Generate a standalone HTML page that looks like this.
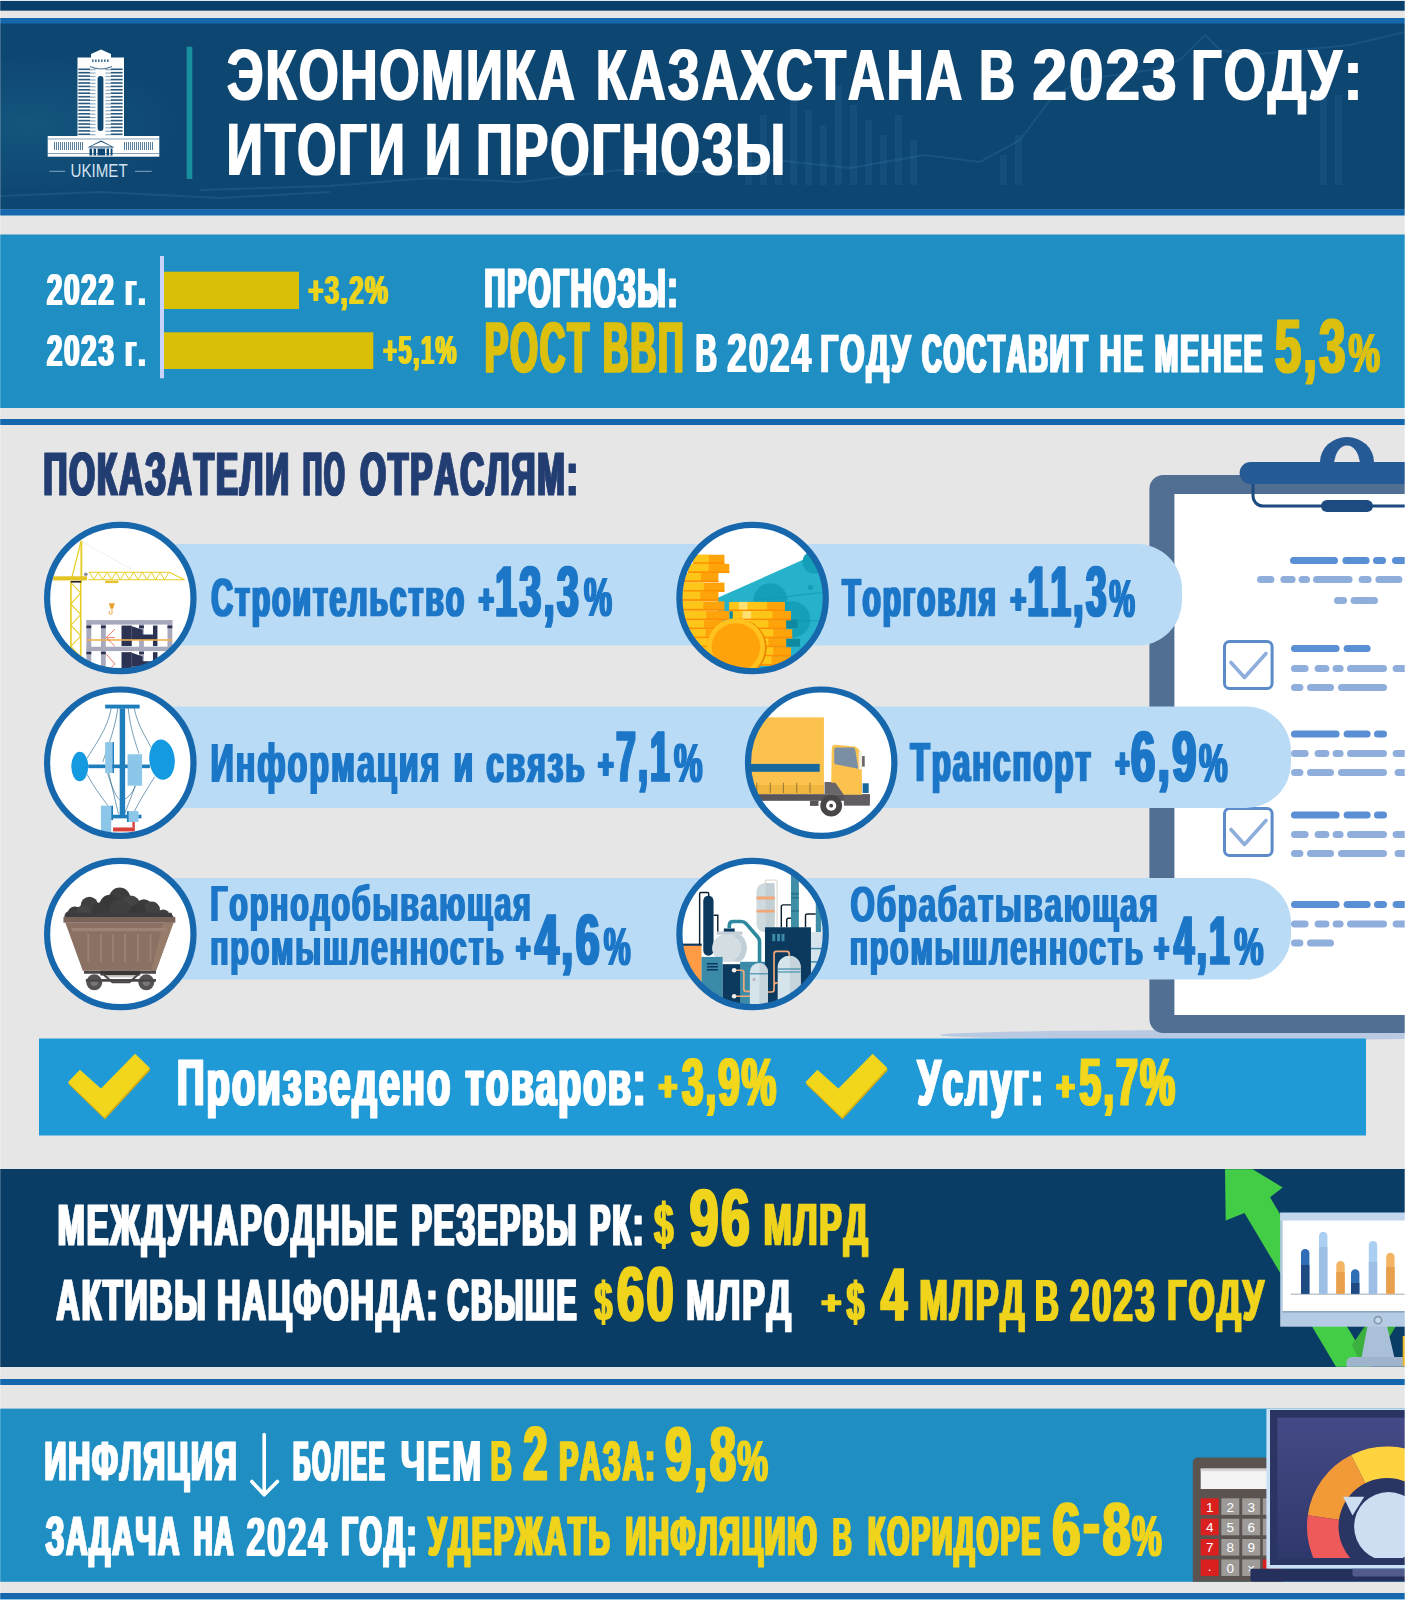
<!DOCTYPE html>
<html lang="ru"><head><meta charset="utf-8"><title>Экономика Казахстана в 2023 году: итоги и прогнозы</title>
<style>html,body{margin:0;padding:0;background:#e7e6e6}svg{display:block}text{font-family:"Liberation Sans",sans-serif;font-kerning:none;white-space:pre}</style></head>
<body>
<svg width="1405" height="1600" viewBox="0 0 1405 1600">
<defs><filter id="fat" x="-2%" y="-10%" width="104%" height="120%"><feMorphology operator="dilate" radius="1 0"/></filter><filter id="fat2" x="-5%" y="-10%" width="110%" height="120%"><feMorphology operator="dilate" radius="2 0"/></filter><radialGradient id="glow"><stop offset="0" stop-color="#1a6a8a" stop-opacity=".45"/><stop offset="1" stop-color="#1a6a8a" stop-opacity="0"/></radialGradient><linearGradient id="scr" x1="0" y1="0" x2="0" y2="1"><stop offset="0" stop-color="#444a86"/><stop offset="1" stop-color="#2f386b"/></linearGradient></defs>
<rect x="0" y="0" width="1405" height="1600" fill="#e7e6e6"/>
<rect x="0" y="0" width="1405" height="10.7" fill="#0b3f6b"/>
<rect x="0" y="0" width="1405" height="1" fill="#dfe9f2"/>
<rect x="0" y="18" width="1405" height="6" fill="#1568ae"/>
<rect x="0" y="23.5" width="1405" height="186" fill="#0e4672"/>
<ellipse cx="30" cy="125" rx="150" ry="70" fill="url(#glow)"/>
<g opacity="0.15" fill="none" stroke="#5aa0d8" stroke-width="2"><polyline points="200,190 330,186 430,178 520,182 620,170 700,172 775,160 850,168 925,155 980,162 1020,140 1050,100 1080,80 1150,70 1180,60 1205,35 1220,50 1250,55 1300,50 1350,45 1405,32"/><polyline points="0,196 100,192 220,198 330,192"/></g>
<g opacity="0.09" fill="#5aa0d8"><rect x="745" y="145" width="7" height="40"/><rect x="760" y="115" width="7" height="70"/><rect x="775" y="130" width="7" height="55"/><rect x="790" y="95" width="7" height="90"/><rect x="805" y="110" width="7" height="75"/><rect x="820" y="125" width="7" height="60"/><rect x="835" y="85" width="7" height="100"/><rect x="850" y="105" width="7" height="80"/><rect x="865" y="120" width="7" height="65"/><rect x="880" y="135" width="7" height="50"/><rect x="895" y="115" width="7" height="70"/><rect x="910" y="140" width="7" height="45"/><rect x="1000" y="155" width="7" height="30"/><rect x="1015" y="135" width="7" height="50"/><rect x="1320" y="65" width="7" height="120"/><rect x="1335" y="95" width="7" height="90"/></g>
<rect x="0" y="209.2" width="1405" height="6.3" fill="#1568ae"/>
<rect x="0" y="234.5" width="1405" height="173.5" fill="#1e8ec3"/>
<rect x="0" y="419" width="1405" height="6" fill="#1568ae"/>
<rect x="0" y="1169" width="1405" height="198" fill="#0a3d65"/>
<rect x="0" y="1379" width="1405" height="6" fill="#1568ae"/>
<rect x="0" y="1408.6" width="1405" height="173.2" fill="#1e8ec3"/>
<rect x="0" y="1593" width="1405" height="6" fill="#1568ae"/>
<rect x="0" y="1599" width="1405" height="1" fill="#8cc4ee"/>
<rect x="186.7" y="46.7" width="5.6" height="132.3" fill="#178f9e"/>
<path d="M77.5 136V57.5h13.5V54l10-4.5 10 4.5v3.5h13V136z" fill="#fff"/><rect x="78.3" y="68.5" width="11.8" height="1.6" fill="#0e4672" opacity=".9"/><rect x="110.8" y="68.5" width="11.8" height="1.6" fill="#0e4672" opacity=".9"/><rect x="90.1" y="69.1" width="5.4" height="1.2" fill="#0e4672" opacity=".45"/><rect x="105.4" y="69.1" width="5.4" height="1.2" fill="#0e4672" opacity=".45"/><rect x="78.3" y="71.9" width="11.8" height="1.6" fill="#0e4672" opacity=".9"/><rect x="110.8" y="71.9" width="11.8" height="1.6" fill="#0e4672" opacity=".9"/><rect x="90.1" y="72.5" width="5.4" height="1.2" fill="#0e4672" opacity=".45"/><rect x="105.4" y="72.5" width="5.4" height="1.2" fill="#0e4672" opacity=".45"/><rect x="78.3" y="75.3" width="11.8" height="1.6" fill="#0e4672" opacity=".9"/><rect x="110.8" y="75.3" width="11.8" height="1.6" fill="#0e4672" opacity=".9"/><rect x="90.1" y="75.9" width="5.4" height="1.2" fill="#0e4672" opacity=".45"/><rect x="105.4" y="75.9" width="5.4" height="1.2" fill="#0e4672" opacity=".45"/><rect x="78.3" y="78.8" width="11.8" height="1.6" fill="#0e4672" opacity=".9"/><rect x="110.8" y="78.8" width="11.8" height="1.6" fill="#0e4672" opacity=".9"/><rect x="90.1" y="79.4" width="5.4" height="1.2" fill="#0e4672" opacity=".45"/><rect x="105.4" y="79.4" width="5.4" height="1.2" fill="#0e4672" opacity=".45"/><rect x="78.3" y="82.2" width="11.8" height="1.6" fill="#0e4672" opacity=".9"/><rect x="110.8" y="82.2" width="11.8" height="1.6" fill="#0e4672" opacity=".9"/><rect x="90.1" y="82.8" width="5.4" height="1.2" fill="#0e4672" opacity=".45"/><rect x="105.4" y="82.8" width="5.4" height="1.2" fill="#0e4672" opacity=".45"/><rect x="78.3" y="85.6" width="11.8" height="1.6" fill="#0e4672" opacity=".9"/><rect x="110.8" y="85.6" width="11.8" height="1.6" fill="#0e4672" opacity=".9"/><rect x="90.1" y="86.2" width="5.4" height="1.2" fill="#0e4672" opacity=".45"/><rect x="105.4" y="86.2" width="5.4" height="1.2" fill="#0e4672" opacity=".45"/><rect x="78.3" y="89.0" width="11.8" height="1.6" fill="#0e4672" opacity=".9"/><rect x="110.8" y="89.0" width="11.8" height="1.6" fill="#0e4672" opacity=".9"/><rect x="90.1" y="89.6" width="5.4" height="1.2" fill="#0e4672" opacity=".45"/><rect x="105.4" y="89.6" width="5.4" height="1.2" fill="#0e4672" opacity=".45"/><rect x="78.3" y="92.4" width="11.8" height="1.6" fill="#0e4672" opacity=".9"/><rect x="110.8" y="92.4" width="11.8" height="1.6" fill="#0e4672" opacity=".9"/><rect x="90.1" y="93.0" width="5.4" height="1.2" fill="#0e4672" opacity=".45"/><rect x="105.4" y="93.0" width="5.4" height="1.2" fill="#0e4672" opacity=".45"/><rect x="78.3" y="95.9" width="11.8" height="1.6" fill="#0e4672" opacity=".9"/><rect x="110.8" y="95.9" width="11.8" height="1.6" fill="#0e4672" opacity=".9"/><rect x="90.1" y="96.5" width="5.4" height="1.2" fill="#0e4672" opacity=".45"/><rect x="105.4" y="96.5" width="5.4" height="1.2" fill="#0e4672" opacity=".45"/><rect x="78.3" y="99.3" width="11.8" height="1.6" fill="#0e4672" opacity=".9"/><rect x="110.8" y="99.3" width="11.8" height="1.6" fill="#0e4672" opacity=".9"/><rect x="90.1" y="99.9" width="5.4" height="1.2" fill="#0e4672" opacity=".45"/><rect x="105.4" y="99.9" width="5.4" height="1.2" fill="#0e4672" opacity=".45"/><rect x="78.3" y="102.7" width="11.8" height="1.6" fill="#0e4672" opacity=".9"/><rect x="110.8" y="102.7" width="11.8" height="1.6" fill="#0e4672" opacity=".9"/><rect x="90.1" y="103.3" width="5.4" height="1.2" fill="#0e4672" opacity=".45"/><rect x="105.4" y="103.3" width="5.4" height="1.2" fill="#0e4672" opacity=".45"/><rect x="78.3" y="106.1" width="11.8" height="1.6" fill="#0e4672" opacity=".9"/><rect x="110.8" y="106.1" width="11.8" height="1.6" fill="#0e4672" opacity=".9"/><rect x="90.1" y="106.7" width="5.4" height="1.2" fill="#0e4672" opacity=".45"/><rect x="105.4" y="106.7" width="5.4" height="1.2" fill="#0e4672" opacity=".45"/><rect x="78.3" y="109.5" width="11.8" height="1.6" fill="#0e4672" opacity=".9"/><rect x="110.8" y="109.5" width="11.8" height="1.6" fill="#0e4672" opacity=".9"/><rect x="90.1" y="110.1" width="5.4" height="1.2" fill="#0e4672" opacity=".45"/><rect x="105.4" y="110.1" width="5.4" height="1.2" fill="#0e4672" opacity=".45"/><rect x="78.3" y="113.0" width="11.8" height="1.6" fill="#0e4672" opacity=".9"/><rect x="110.8" y="113.0" width="11.8" height="1.6" fill="#0e4672" opacity=".9"/><rect x="90.1" y="113.6" width="5.4" height="1.2" fill="#0e4672" opacity=".45"/><rect x="105.4" y="113.6" width="5.4" height="1.2" fill="#0e4672" opacity=".45"/><rect x="78.3" y="116.4" width="11.8" height="1.6" fill="#0e4672" opacity=".9"/><rect x="110.8" y="116.4" width="11.8" height="1.6" fill="#0e4672" opacity=".9"/><rect x="90.1" y="117.0" width="5.4" height="1.2" fill="#0e4672" opacity=".45"/><rect x="105.4" y="117.0" width="5.4" height="1.2" fill="#0e4672" opacity=".45"/><rect x="78.3" y="119.8" width="11.8" height="1.6" fill="#0e4672" opacity=".9"/><rect x="110.8" y="119.8" width="11.8" height="1.6" fill="#0e4672" opacity=".9"/><rect x="90.1" y="120.4" width="5.4" height="1.2" fill="#0e4672" opacity=".45"/><rect x="105.4" y="120.4" width="5.4" height="1.2" fill="#0e4672" opacity=".45"/><rect x="78.3" y="123.2" width="11.8" height="1.6" fill="#0e4672" opacity=".9"/><rect x="110.8" y="123.2" width="11.8" height="1.6" fill="#0e4672" opacity=".9"/><rect x="90.1" y="123.8" width="5.4" height="1.2" fill="#0e4672" opacity=".45"/><rect x="105.4" y="123.8" width="5.4" height="1.2" fill="#0e4672" opacity=".45"/><rect x="78.3" y="126.6" width="11.8" height="1.6" fill="#0e4672" opacity=".9"/><rect x="110.8" y="126.6" width="11.8" height="1.6" fill="#0e4672" opacity=".9"/><rect x="90.1" y="127.2" width="5.4" height="1.2" fill="#0e4672" opacity=".45"/><rect x="105.4" y="127.2" width="5.4" height="1.2" fill="#0e4672" opacity=".45"/><rect x="78.3" y="130.1" width="11.8" height="1.6" fill="#0e4672" opacity=".9"/><rect x="110.8" y="130.1" width="11.8" height="1.6" fill="#0e4672" opacity=".9"/><rect x="90.1" y="130.7" width="5.4" height="1.2" fill="#0e4672" opacity=".45"/><rect x="105.4" y="130.7" width="5.4" height="1.2" fill="#0e4672" opacity=".45"/><rect x="78.3" y="133.5" width="11.8" height="1.6" fill="#0e4672" opacity=".9"/><rect x="110.8" y="133.5" width="11.8" height="1.6" fill="#0e4672" opacity=".9"/><rect x="90.1" y="134.1" width="5.4" height="1.2" fill="#0e4672" opacity=".45"/><rect x="105.4" y="134.1" width="5.4" height="1.2" fill="#0e4672" opacity=".45"/><rect x="92" y="59.5" width="1.6" height="2.4" fill="#0e4672" opacity=".8"/><rect x="95" y="59.5" width="1.6" height="2.4" fill="#0e4672" opacity=".8"/><rect x="98" y="59.5" width="1.6" height="2.4" fill="#0e4672" opacity=".8"/><rect x="101" y="59.5" width="1.6" height="2.4" fill="#0e4672" opacity=".8"/><rect x="104" y="59.5" width="1.6" height="2.4" fill="#0e4672" opacity=".8"/><rect x="107" y="59.5" width="1.6" height="2.4" fill="#0e4672" opacity=".8"/><rect x="97.6" y="76" width="5.8" height="55" rx="2.9" fill="#0e4672"/><path d="M90 66.5q11 5 22 0" fill="none" stroke="#0e4672" stroke-width="1.2" opacity=".7"/><rect x="47.7" y="136" width="111.6" height="20.7" fill="#fff"/><rect x="47.7" y="138.5" width="111.6" height="1" fill="#0e4672" opacity=".5"/><rect x="54" y="142" width="1" height="8" fill="#0e4672" opacity=".7"/><rect x="56" y="142" width="1" height="8" fill="#0e4672" opacity=".7"/><rect x="58" y="142" width="1" height="8" fill="#0e4672" opacity=".7"/><rect x="60" y="142" width="1" height="8" fill="#0e4672" opacity=".7"/><rect x="62" y="142" width="1" height="8" fill="#0e4672" opacity=".7"/><rect x="64" y="142" width="1" height="8" fill="#0e4672" opacity=".7"/><rect x="66" y="142" width="1" height="8" fill="#0e4672" opacity=".7"/><rect x="68" y="142" width="1" height="8" fill="#0e4672" opacity=".7"/><rect x="70" y="142" width="1" height="8" fill="#0e4672" opacity=".7"/><rect x="72" y="142" width="1" height="8" fill="#0e4672" opacity=".7"/><rect x="74" y="142" width="1" height="8" fill="#0e4672" opacity=".7"/><rect x="76" y="142" width="1" height="8" fill="#0e4672" opacity=".7"/><rect x="78" y="142" width="1" height="8" fill="#0e4672" opacity=".7"/><rect x="80" y="142" width="1" height="8" fill="#0e4672" opacity=".7"/><rect x="82" y="142" width="1" height="8" fill="#0e4672" opacity=".7"/><rect x="124" y="142" width="1" height="8" fill="#0e4672" opacity=".7"/><rect x="126" y="142" width="1" height="8" fill="#0e4672" opacity=".7"/><rect x="128" y="142" width="1" height="8" fill="#0e4672" opacity=".7"/><rect x="130" y="142" width="1" height="8" fill="#0e4672" opacity=".7"/><rect x="132" y="142" width="1" height="8" fill="#0e4672" opacity=".7"/><rect x="134" y="142" width="1" height="8" fill="#0e4672" opacity=".7"/><rect x="136" y="142" width="1" height="8" fill="#0e4672" opacity=".7"/><rect x="138" y="142" width="1" height="8" fill="#0e4672" opacity=".7"/><rect x="140" y="142" width="1" height="8" fill="#0e4672" opacity=".7"/><rect x="142" y="142" width="1" height="8" fill="#0e4672" opacity=".7"/><rect x="144" y="142" width="1" height="8" fill="#0e4672" opacity=".7"/><rect x="146" y="142" width="1" height="8" fill="#0e4672" opacity=".7"/><rect x="148" y="142" width="1" height="8" fill="#0e4672" opacity=".7"/><rect x="150" y="142" width="1" height="8" fill="#0e4672" opacity=".7"/><rect x="152" y="142" width="1" height="8" fill="#0e4672" opacity=".7"/><path d="M87.5 147.5L101 140.5l13.5 7z" fill="#0e4672"/><path d="M90.5 146.5L101 141.7l10.5 4.8z" fill="#fff"/><rect x="89.5" y="148.5" width="23" height="7" fill="#0e4672"/><rect x="92" y="148.5" width="1.6" height="7" fill="#fff"/><rect x="96" y="148.5" width="1.6" height="7" fill="#fff"/><rect x="105" y="148.5" width="1.6" height="7" fill="#fff"/><rect x="109" y="148.5" width="1.6" height="7" fill="#fff"/><rect x="47.7" y="153" width="111.6" height="1" fill="#0e4672" opacity=".5"/>
<rect x="49.3" y="170.8" width="15.7" height="1" fill="#7fa6c4"/><rect x="135" y="170.8" width="16.7" height="1" fill="#7fa6c4"/>
<text transform="translate(70.53 177.30) scale(0.8456 1)" font-size="17.88" font-weight="normal" fill="#d3e2ef">UKIMET </text>
<g filter="url(#fat)">
<text transform="translate(226.95 100.20) scale(0.7022 1)" font-size="72.97" font-weight="bold" fill="#ffffff" letter-spacing="2.848">ЭКОНОМИКА </text><text transform="translate(596.10 100.20) scale(0.6966 1)" font-size="72.97" font-weight="bold" fill="#ffffff" letter-spacing="2.871">КАЗАХСТАНА </text><text transform="translate(979.21 100.20) scale(0.6742 1)" font-size="72.97" font-weight="bold" fill="#ffffff" letter-spacing="2.967">В </text><text transform="translate(1032.55 100.20) scale(0.8501 1)" font-size="72.97" font-weight="bold" fill="#ffffff" letter-spacing="2.353">2023 </text><text transform="translate(1191.08 100.20) scale(0.7408 1)" font-size="72.97" font-weight="bold" fill="#ffffff" letter-spacing="2.700">ГОДУ: </text>
<text transform="translate(226.67 175.40) scale(0.6838 1)" font-size="73.26" font-weight="bold" fill="#ffffff" letter-spacing="2.925">ИТОГИ </text><text transform="translate(425.08 175.40) scale(0.6832 1)" font-size="73.26" font-weight="bold" fill="#ffffff" letter-spacing="2.928">И </text><text transform="translate(476.32 175.40) scale(0.6890 1)" font-size="73.26" font-weight="bold" fill="#ffffff" letter-spacing="2.903">ПРОГНОЗЫ </text>
</g>
<rect x="160" y="256" width="4" height="122.3" fill="#c8d2fa"/>
<rect x="164" y="271.7" width="135" height="37.3" fill="#d9bf05"/>
<rect x="164" y="332.3" width="209.3" height="36.7" fill="#d9bf05"/>
<g filter="url(#fat)">
<text transform="translate(46.72 304.80) scale(0.6287 1)" font-size="44.77" font-weight="bold" fill="#ffffff" letter-spacing="2.450">2022 г. </text>
<text transform="translate(46.72 365.50) scale(0.6287 1)" font-size="44.77" font-weight="bold" fill="#ffffff" letter-spacing="2.450">2023 г. </text>
<text transform="translate(308.21 304.00) scale(0.6292 1)" font-size="41.13" font-weight="bold" fill="#ecd31f" letter-spacing="2.249">+3,2% </text>
<text transform="translate(383.31 364.00) scale(0.5718 1)" font-size="41.13" font-weight="bold" fill="#ecd31f" letter-spacing="2.475">+5,1% </text>
<text transform="translate(484.55 306.53) scale(0.5221 1)" font-size="55.03" font-weight="bold" fill="#ffffff" letter-spacing="3.716" stroke="#ffffff" stroke-width="0.94" vector-effect="non-scaling-stroke" stroke-linejoin="round">ПРОГНОЗЫ: </text>
<text transform="translate(484.63 371.90) scale(0.5037 1)" font-size="70.35" font-weight="bold" fill="#dcc010" letter-spacing="3.970" stroke="#dcc010" stroke-width="1" vector-effect="non-scaling-stroke" stroke-linejoin="round">РОСТ ВВП </text>
<text transform="translate(695.50 372.20) scale(0.5460 1)" font-size="54.65" font-weight="bold" fill="#ffffff" letter-spacing="3.443">В </text><text transform="translate(727.29 372.20) scale(0.6413 1)" font-size="54.65" font-weight="bold" fill="#ffffff" letter-spacing="2.932">2024 </text><text transform="translate(820.35 372.03) scale(0.5825 1)" font-size="54.17" font-weight="bold" fill="#ffffff" letter-spacing="3.227" stroke="#ffffff" stroke-width="0.33" vector-effect="non-scaling-stroke" stroke-linejoin="round">ГОДУ </text><text transform="translate(922.05 371.73) scale(0.5105 1)" font-size="53.29" font-weight="bold" fill="#ffffff" letter-spacing="3.683" stroke="#ffffff" stroke-width="0.94" vector-effect="non-scaling-stroke" stroke-linejoin="round">СОСТАВИТ </text><text transform="translate(1099.86 371.94) scale(0.5552 1)" font-size="53.90" font-weight="bold" fill="#ffffff" letter-spacing="3.386" stroke="#ffffff" stroke-width="0.52" vector-effect="non-scaling-stroke" stroke-linejoin="round">НЕ </text><text transform="translate(1154.80 371.81) scale(0.5275 1)" font-size="53.52" font-weight="bold" fill="#ffffff" letter-spacing="3.564" stroke="#ffffff" stroke-width="0.78" vector-effect="non-scaling-stroke" stroke-linejoin="round">МЕНЕЕ </text>
<text transform="translate(1275.06 371.80) scale(0.6175 1)" font-size="75.87" font-weight="bold" fill="#dcc010" letter-spacing="4.048" stroke="#dcc010" stroke-width="1" vector-effect="non-scaling-stroke" stroke-linejoin="round">5,3</text>
<text transform="translate(1348.42 372.30) scale(0.6334 1)" font-size="55.96" font-weight="bold" fill="#dcc010">%</text>
</g>
<ellipse cx="1230" cy="1035" rx="290" ry="5" fill="#b9c9e2"/><path d="M1405 475H1163.4a14 14 0 0 0-14 14V1019a14 14 0 0 0 14 14H1405z" fill="#516e93"/><rect x="1174.4" y="494" width="231" height="521" fill="#fff"/><path d="M1253 482V496a10 10 0 0 0 10 10H1405" fill="none" stroke="#1d4a80" stroke-width="3"/><rect x="1321" y="500" width="52" height="12" rx="6" fill="#1d4a80"/><path d="M1320 462a27 25 0 0 1 54 0z" fill="#255a94"/><path d="M1334.5 463a12.5 17.5 0 0 1 25 0z" fill="#e7e6e6"/><rect x="1334.5" y="459" width="25" height="4.5" rx="2" fill="#e7e6e6"/><path d="M1405 462H1250.6a11 11 0 0 0 0 22H1405z" fill="#255a94"/><line x1="1293.5" y1="560.4" x2="1334.5" y2="560.4" stroke="#5b8fd4" stroke-width="7" stroke-linecap="round"/><line x1="1345.9" y1="560.4" x2="1366.1" y2="560.4" stroke="#5b8fd4" stroke-width="7" stroke-linecap="round"/><line x1="1376.5" y1="560.4" x2="1382.5" y2="560.4" stroke="#5b8fd4" stroke-width="7" stroke-linecap="round"/><line x1="1395.5" y1="560.4" x2="1410.5" y2="560.4" stroke="#5b8fd4" stroke-width="7" stroke-linecap="round"/><line x1="1260.5" y1="579.6" x2="1270.9" y2="579.6" stroke="#8faedb" stroke-width="7" stroke-linecap="round"/><line x1="1283.9" y1="579.6" x2="1292.1" y2="579.6" stroke="#8faedb" stroke-width="7" stroke-linecap="round"/><line x1="1302.1" y1="579.6" x2="1306.5" y2="579.6" stroke="#8faedb" stroke-width="7" stroke-linecap="round"/><line x1="1316.5" y1="579.6" x2="1349.1" y2="579.6" stroke="#8faedb" stroke-width="7" stroke-linecap="round"/><line x1="1362.1" y1="579.6" x2="1368.1" y2="579.6" stroke="#8faedb" stroke-width="7" stroke-linecap="round"/><line x1="1378.9" y1="579.6" x2="1398.9" y2="579.6" stroke="#8faedb" stroke-width="7" stroke-linecap="round"/><line x1="1337.5" y1="600.6" x2="1343.5" y2="600.6" stroke="#8faedb" stroke-width="7" stroke-linecap="round"/><line x1="1354.1" y1="600.6" x2="1374.5" y2="600.6" stroke="#8faedb" stroke-width="7" stroke-linecap="round"/><line x1="1294.5" y1="648.6" x2="1336.1" y2="648.6" stroke="#5b8fd4" stroke-width="7" stroke-linecap="round"/><line x1="1347.1" y1="648.6" x2="1367.1" y2="648.6" stroke="#5b8fd4" stroke-width="7" stroke-linecap="round"/><line x1="1294.5" y1="668.4" x2="1305.1" y2="668.4" stroke="#8faedb" stroke-width="7" stroke-linecap="round"/><line x1="1318.1" y1="668.4" x2="1325.9" y2="668.4" stroke="#8faedb" stroke-width="7" stroke-linecap="round"/><line x1="1336.1" y1="668.4" x2="1340.1" y2="668.4" stroke="#8faedb" stroke-width="7" stroke-linecap="round"/><line x1="1350.5" y1="668.4" x2="1383.5" y2="668.4" stroke="#8faedb" stroke-width="7" stroke-linecap="round"/><line x1="1396.1" y1="668.4" x2="1410.5" y2="668.4" stroke="#8faedb" stroke-width="7" stroke-linecap="round"/><line x1="1294.5" y1="687.4" x2="1299.9" y2="687.4" stroke="#8faedb" stroke-width="7" stroke-linecap="round"/><line x1="1310.5" y1="687.4" x2="1330.5" y2="687.4" stroke="#8faedb" stroke-width="7" stroke-linecap="round"/><line x1="1341.5" y1="687.4" x2="1383.5" y2="687.4" stroke="#8faedb" stroke-width="7" stroke-linecap="round"/><line x1="1294.5" y1="734.0" x2="1336.1" y2="734.0" stroke="#5b8fd4" stroke-width="7" stroke-linecap="round"/><line x1="1347.1" y1="734.0" x2="1367.1" y2="734.0" stroke="#5b8fd4" stroke-width="7" stroke-linecap="round"/><line x1="1377.5" y1="734.0" x2="1383.5" y2="734.0" stroke="#5b8fd4" stroke-width="7" stroke-linecap="round"/><line x1="1294.5" y1="753.6" x2="1305.1" y2="753.6" stroke="#8faedb" stroke-width="7" stroke-linecap="round"/><line x1="1318.1" y1="753.6" x2="1325.9" y2="753.6" stroke="#8faedb" stroke-width="7" stroke-linecap="round"/><line x1="1336.1" y1="753.6" x2="1340.1" y2="753.6" stroke="#8faedb" stroke-width="7" stroke-linecap="round"/><line x1="1350.5" y1="753.6" x2="1383.5" y2="753.6" stroke="#8faedb" stroke-width="7" stroke-linecap="round"/><line x1="1396.1" y1="753.6" x2="1410.5" y2="753.6" stroke="#8faedb" stroke-width="7" stroke-linecap="round"/><line x1="1294.5" y1="772.4" x2="1299.9" y2="772.4" stroke="#8faedb" stroke-width="7" stroke-linecap="round"/><line x1="1310.5" y1="772.4" x2="1330.5" y2="772.4" stroke="#8faedb" stroke-width="7" stroke-linecap="round"/><line x1="1341.5" y1="772.4" x2="1383.5" y2="772.4" stroke="#8faedb" stroke-width="7" stroke-linecap="round"/><line x1="1398.1" y1="772.4" x2="1410.5" y2="772.4" stroke="#8faedb" stroke-width="7" stroke-linecap="round"/><line x1="1294.5" y1="815.0" x2="1336.1" y2="815.0" stroke="#5b8fd4" stroke-width="7" stroke-linecap="round"/><line x1="1347.1" y1="815.0" x2="1367.1" y2="815.0" stroke="#5b8fd4" stroke-width="7" stroke-linecap="round"/><line x1="1377.5" y1="815.0" x2="1383.5" y2="815.0" stroke="#5b8fd4" stroke-width="7" stroke-linecap="round"/><line x1="1294.5" y1="834.6" x2="1305.1" y2="834.6" stroke="#8faedb" stroke-width="7" stroke-linecap="round"/><line x1="1318.1" y1="834.6" x2="1325.9" y2="834.6" stroke="#8faedb" stroke-width="7" stroke-linecap="round"/><line x1="1336.1" y1="834.6" x2="1340.1" y2="834.6" stroke="#8faedb" stroke-width="7" stroke-linecap="round"/><line x1="1350.5" y1="834.6" x2="1383.5" y2="834.6" stroke="#8faedb" stroke-width="7" stroke-linecap="round"/><line x1="1396.1" y1="834.6" x2="1410.5" y2="834.6" stroke="#8faedb" stroke-width="7" stroke-linecap="round"/><line x1="1294.5" y1="853.4" x2="1299.9" y2="853.4" stroke="#8faedb" stroke-width="7" stroke-linecap="round"/><line x1="1310.5" y1="853.4" x2="1330.5" y2="853.4" stroke="#8faedb" stroke-width="7" stroke-linecap="round"/><line x1="1341.5" y1="853.4" x2="1383.5" y2="853.4" stroke="#8faedb" stroke-width="7" stroke-linecap="round"/><line x1="1398.1" y1="853.4" x2="1410.5" y2="853.4" stroke="#8faedb" stroke-width="7" stroke-linecap="round"/><line x1="1294.5" y1="904.4" x2="1336.1" y2="904.4" stroke="#5b8fd4" stroke-width="7" stroke-linecap="round"/><line x1="1347.1" y1="904.4" x2="1367.1" y2="904.4" stroke="#5b8fd4" stroke-width="7" stroke-linecap="round"/><line x1="1377.5" y1="904.4" x2="1383.5" y2="904.4" stroke="#5b8fd4" stroke-width="7" stroke-linecap="round"/><line x1="1396.1" y1="904.4" x2="1410.5" y2="904.4" stroke="#5b8fd4" stroke-width="7" stroke-linecap="round"/><line x1="1294.5" y1="924.0" x2="1305.1" y2="924.0" stroke="#8faedb" stroke-width="7" stroke-linecap="round"/><line x1="1318.1" y1="924.0" x2="1325.9" y2="924.0" stroke="#8faedb" stroke-width="7" stroke-linecap="round"/><line x1="1336.1" y1="924.0" x2="1340.1" y2="924.0" stroke="#8faedb" stroke-width="7" stroke-linecap="round"/><line x1="1350.5" y1="924.0" x2="1383.5" y2="924.0" stroke="#8faedb" stroke-width="7" stroke-linecap="round"/><line x1="1396.1" y1="924.0" x2="1410.5" y2="924.0" stroke="#8faedb" stroke-width="7" stroke-linecap="round"/><line x1="1294.5" y1="943.0" x2="1299.9" y2="943.0" stroke="#8faedb" stroke-width="7" stroke-linecap="round"/><line x1="1310.5" y1="943.0" x2="1330.5" y2="943.0" stroke="#8faedb" stroke-width="7" stroke-linecap="round"/><rect x="1224.5" y="641.5" width="47.6" height="47" rx="5" fill="#fff" stroke="#5b8bc9" stroke-width="3"/><path d="M1231 662.5l13.5 15 21.5-24" fill="none" stroke="#8faedb" stroke-width="3.6" stroke-linecap="round" stroke-linejoin="round"/><rect x="1224.5" y="808.5" width="47.6" height="47" rx="5" fill="#fff" stroke="#5b8bc9" stroke-width="3"/><path d="M1231 829.5l13.5 15 21.5-24" fill="none" stroke="#8faedb" stroke-width="3.6" stroke-linecap="round" stroke-linejoin="round"/>
<g filter="url(#fat)">
<text transform="translate(43.59 495.30) scale(0.5418 1)" font-size="61.05" font-weight="bold" fill="#243d72" letter-spacing="3.691" stroke="#243d72" stroke-width="1" vector-effect="non-scaling-stroke" stroke-linejoin="round">ПОКАЗАТЕЛИ </text><text transform="translate(303.03 495.30) scale(0.4332 1)" font-size="61.05" font-weight="bold" fill="#243d72" letter-spacing="4.617" stroke="#243d72" stroke-width="1" vector-effect="non-scaling-stroke" stroke-linejoin="round">ПО </text><text transform="translate(360.14 495.30) scale(0.5432 1)" font-size="61.05" font-weight="bold" fill="#243d72" letter-spacing="3.682" stroke="#243d72" stroke-width="1" vector-effect="non-scaling-stroke" stroke-linejoin="round">ОТРАСЛЯМ: </text>
</g>
<path d="M120.0 544.0H1137.0a45 45 0 0 1 45 45V600.6a45 45 0 0 1 -45 45H120.0z" fill="#b9dbf5"/>
<path d="M120.0 706.4H1246.0a45 45 0 0 1 45 45V763.0a45 45 0 0 1 -45 45H120.0z" fill="#b9dbf5"/>
<path d="M120.0 878.0H1246.0a45 45 0 0 1 45 45V934.6a45 45 0 0 1 -45 45H120.0z" fill="#b9dbf5"/>
<clipPath id="ck1"><circle cx="120.3" cy="598.0" r="71"/></clipPath><circle cx="120.3" cy="598.0" r="73.2" fill="#fff"/><g clip-path="url(#ck1)"><g transform="translate(35 510) scale(0.12099)"><line x1="390" y1="265" x2="800" y2="490" stroke="#d4d4d4" stroke-width="3"/><g stroke="#e6cf2a" fill="none"><path d="M297 590V1400M378 590V1400" stroke-width="14"/><polyline points="297,600 378,688 297,776 378,864 297,952 378,1040 297,1128 378,1216 297,1304 378,1392" stroke-width="9"/><path d="M383 255V590" stroke-width="16"/><path d="M380 262L300 575" stroke-width="11"/><polyline points="450,514 486,576 523,514 559,576 596,514 632,576 669,514 705,576 742,514 778,576 815,514 851,576 888,514 924,576 961,514 997,576 1034,514 1070,576 1107,514" stroke-width="8"/><path d="M445 514H1110L1235 576H440" stroke-width="9" stroke-linejoin="round"/></g><rect x="150" y="548" width="280" height="34" fill="#e3c524"/><rect x="295" y="586" width="87" height="14" fill="#222"/><circle cx="420" cy="532" r="15" fill="#8c8c9c"/><rect x="580" y="584" width="110" height="20" fill="#e8c030"/><path d="M610 770h50l-14 45h-22z" fill="#e8a030"/><path d="M636 812v28a13 13 0 1 1-17-4" fill="none" stroke="#e8a030" stroke-width="8"/><rect x="425" y="910" width="710" height="37" fill="#a8a9bc"/><rect x="425" y="910" width="40" height="490" fill="#a8a9bc"/><rect x="425" y="955" width="40" height="22" fill="#2b3252"/><rect x="425" y="1172" width="40" height="20" fill="#2b3252"/><rect x="545" y="910" width="40" height="490" fill="#a8a9bc"/><rect x="545" y="955" width="40" height="22" fill="#2b3252"/><rect x="545" y="1172" width="40" height="20" fill="#2b3252"/><rect x="860" y="910" width="40" height="490" fill="#a8a9bc"/><rect x="860" y="955" width="40" height="22" fill="#2b3252"/><rect x="860" y="1172" width="40" height="20" fill="#2b3252"/><rect x="1095" y="910" width="40" height="490" fill="#a8a9bc"/><rect x="1095" y="955" width="40" height="22" fill="#2b3252"/><rect x="1095" y="1172" width="40" height="20" fill="#2b3252"/><rect x="425" y="1130" width="710" height="36" fill="#a8a9bc"/><rect x="715" y="955" width="85" height="170" fill="#2b3252"/><rect x="975" y="955" width="37" height="170" fill="#2b3252"/><path d="M800 960 l90 30 v40 h85 v45 h-175z" fill="#2b3252"/><rect x="715" y="1175" width="85" height="170" fill="#2b3252"/><rect x="975" y="1175" width="37" height="170" fill="#2b3252"/><path d="M800 1180 l90 30 v40 h85 v45 h-175z" fill="#2b3252"/><rect x="425" y="1068" width="710" height="13" fill="#f0b050"/><path d="M660 985l-72 70 72 70M588 1055h72M590 1192l70 80-30 30" fill="none" stroke="#e86050" stroke-width="7"/></g></g><circle cx="120.3" cy="598.0" r="73.2" fill="none" stroke="#1767ad" stroke-width="6.2"/>
<clipPath id="ck2"><circle cx="752.6" cy="598.0" r="71"/></clipPath><circle cx="752.6" cy="598.0" r="73.2" fill="#fff"/><g clip-path="url(#ck2)"><g transform="translate(670 510) scale(0.12099)"><path d="M395 725L1160 385H1500V1500H395z" fill="#27b2cb"/><circle cx="830" cy="745" r="140" fill="#14a0b9"/><circle cx="1010" cy="905" r="150" fill="#14a0b9"/><circle cx="1190" cy="430" r="95" fill="#14a0b9"/><circle cx="1160" cy="640" r="22" fill="#14a0b9"/><path d="M700 745L1320 675M960 915L1300 915" stroke="#129ab2" stroke-width="7" fill="none"/><rect x="190" y="370" width="260" height="76" fill="#ffa30a"/><rect x="190" y="370" width="130" height="76" fill="#ffc61a"/><rect x="190" y="432" width="260" height="14" fill="#ff8f00"/><rect x="150" y="445" width="340" height="76" fill="#ffa30a"/><rect x="150" y="445" width="170" height="76" fill="#ffc61a"/><rect x="150" y="507" width="340" height="14" fill="#ff8f00"/><rect x="110" y="520" width="290" height="76" fill="#ffa30a"/><rect x="110" y="520" width="145" height="76" fill="#ffc61a"/><rect x="110" y="582" width="290" height="14" fill="#ff8f00"/><rect x="110" y="600" width="340" height="76" fill="#ffa30a"/><rect x="110" y="600" width="170" height="76" fill="#ffc61a"/><rect x="110" y="662" width="340" height="14" fill="#ff8f00"/><rect x="100" y="675" width="300" height="76" fill="#ffa30a"/><rect x="100" y="675" width="150" height="76" fill="#ffc61a"/><rect x="100" y="737" width="300" height="14" fill="#ff8f00"/><rect x="100" y="755" width="350" height="76" fill="#ffa30a"/><rect x="100" y="755" width="175" height="76" fill="#ffc61a"/><rect x="100" y="817" width="350" height="14" fill="#ff8f00"/><rect x="110" y="835" width="380" height="76" fill="#ffa30a"/><rect x="110" y="835" width="190" height="76" fill="#ffc61a"/><rect x="110" y="897" width="380" height="14" fill="#ff8f00"/><rect x="120" y="910" width="320" height="76" fill="#ffa30a"/><rect x="120" y="910" width="160" height="76" fill="#ffc61a"/><rect x="120" y="972" width="320" height="14" fill="#ff8f00"/><rect x="150" y="985" width="290" height="76" fill="#ffa30a"/><rect x="150" y="985" width="145" height="76" fill="#ffc61a"/><rect x="150" y="1047" width="290" height="14" fill="#ff8f00"/><rect x="180" y="1060" width="260" height="76" fill="#ffa30a"/><rect x="180" y="1060" width="130" height="76" fill="#ffc61a"/><rect x="180" y="1122" width="260" height="14" fill="#ff8f00"/><rect x="200" y="1135" width="240" height="76" fill="#ffa30a"/><rect x="200" y="1135" width="120" height="76" fill="#ffc61a"/><rect x="200" y="1197" width="240" height="14" fill="#ff8f00"/><rect x="220" y="1210" width="220" height="76" fill="#ffa30a"/><rect x="220" y="1210" width="110" height="76" fill="#ffc61a"/><rect x="220" y="1272" width="220" height="14" fill="#ff8f00"/><rect x="495" y="835" width="32" height="70" fill="#0e8aa0"/><rect x="960" y="905" width="95" height="70" fill="#0e8aa0"/><rect x="960" y="1065" width="115" height="65" fill="#0e8aa0"/><rect x="490" y="760" width="460" height="76" fill="#ffa30a"/><rect x="490" y="760" width="312.8" height="76" fill="#ffc61a"/><rect x="490" y="822" width="460" height="14" fill="#ff8f00"/><rect x="570" y="760" width="70" height="62" fill="#ffe070"/><rect x="520" y="835" width="480" height="76" fill="#ffa30a"/><rect x="520" y="835" width="326.4" height="76" fill="#ffc61a"/><rect x="520" y="897" width="480" height="14" fill="#ff8f00"/><rect x="600" y="835" width="70" height="62" fill="#ffe070"/><rect x="500" y="910" width="460" height="76" fill="#ffa30a"/><rect x="500" y="910" width="312.8" height="76" fill="#ffc61a"/><rect x="500" y="972" width="460" height="14" fill="#ff8f00"/><rect x="580" y="910" width="70" height="62" fill="#ffe070"/><rect x="520" y="985" width="490" height="76" fill="#ffa30a"/><rect x="520" y="985" width="333.2" height="76" fill="#ffc61a"/><rect x="520" y="1047" width="490" height="14" fill="#ff8f00"/><rect x="600" y="985" width="70" height="62" fill="#ffe070"/><rect x="500" y="1060" width="460" height="76" fill="#ffa30a"/><rect x="500" y="1060" width="312.8" height="76" fill="#ffc61a"/><rect x="500" y="1122" width="460" height="14" fill="#ff8f00"/><rect x="580" y="1060" width="70" height="62" fill="#ffe070"/><rect x="540" y="1135" width="460" height="76" fill="#ffa30a"/><rect x="540" y="1135" width="312.8" height="76" fill="#ffc61a"/><rect x="540" y="1197" width="460" height="14" fill="#ff8f00"/><rect x="620" y="1135" width="70" height="62" fill="#ffe070"/><rect x="520" y="1210" width="470" height="76" fill="#ffa30a"/><rect x="520" y="1210" width="319.6" height="76" fill="#ffc61a"/><rect x="520" y="1272" width="470" height="14" fill="#ff8f00"/><rect x="600" y="1210" width="70" height="62" fill="#ffe070"/><circle cx="560" cy="1140" r="240" fill="#e88a00"/><circle cx="545" cy="1135" r="240" fill="#ffc21e"/><circle cx="545" cy="1135" r="200" fill="#ffa30a"/></g></g><circle cx="752.6" cy="598.0" r="73.2" fill="none" stroke="#1767ad" stroke-width="6.2"/>
<clipPath id="ck3"><circle cx="120.3" cy="762.7" r="71"/></clipPath><circle cx="120.3" cy="762.7" r="73.2" fill="#fff"/><g clip-path="url(#ck3)"><g transform="translate(35 675) scale(0.12099)"><g fill="none" stroke="#1b5f85" stroke-width="5"><path d="M630 275C600 450 480 600 430 690M685 275C660 450 600 600 560 720M770 275C790 450 830 560 860 650M820 275C850 420 920 520 960 600M430 820C500 950 560 1020 610 1090M990 840C920 950 860 1050 820 1130M600 810C640 950 680 1020 700 1030C760 1040 800 980 830 915M610 810L690 1150M830 915L740 1150"/></g><rect x="580" y="245" width="285" height="32" fill="#1d7dbd"/><rect x="700" y="275" width="45" height="895" fill="#1d7dbd"/><rect x="440" y="740" width="510" height="30" fill="#1d7dbd"/><ellipse cx="370" cy="757" rx="70" ry="122" fill="#149ae0"/><ellipse cx="1050" cy="700" rx="105" ry="167" fill="#149ae0" transform="rotate(-5 1050 700)"/><rect x="580" y="555" width="60" height="255" fill="#8cc6e8"/><rect x="640" y="555" width="13" height="255" fill="#1d7dbd"/><rect x="765" y="655" width="120" height="260" fill="#8cc6e8"/><rect x="545" y="1080" width="85" height="250" fill="#8cc6e8"/><rect x="630" y="1080" width="15" height="120" fill="#1d7dbd"/><rect x="640" y="1155" width="130" height="30" fill="#1d7dbd"/><rect x="760" y="1125" width="16" height="90" fill="#1d7dbd"/><rect x="775" y="1125" width="80" height="90" fill="#8cc6e8"/><rect x="855" y="1155" width="25" height="30" fill="#1d7dbd"/><rect x="645" y="1260" width="180" height="33" fill="#d9403a"/><rect x="805" y="1215" width="20" height="47" fill="#d9403a"/></g></g><circle cx="120.3" cy="762.7" r="73.2" fill="none" stroke="#1767ad" stroke-width="6.2"/>
<clipPath id="ck4"><circle cx="821.2" cy="762.7" r="71"/></clipPath><circle cx="821.2" cy="762.7" r="73.2" fill="#fff"/><g clip-path="url(#ck4)"><g transform="translate(735 675) scale(0.12099)"><rect x="50" y="350" width="685" height="635" fill="#fbc24e"/><rect x="50" y="910" width="685" height="75" fill="#efb640"/><rect x="50" y="735" width="650" height="65" fill="#17689c"/><path d="M180 890V975M292 890V975M400 890V975M510 890V975M620 890V975" stroke="#5a4a30" stroke-width="5"/><rect x="50" y="985" width="1065" height="55" fill="#5a5558"/><path d="M740 885h90l70 100H740z" fill="#6a6568"/><rect x="900" y="990" width="215" height="90" fill="#625d62"/><rect x="620" y="1040" width="70" height="42" fill="#5a5558"/><path d="M800 605Q800 578 830 576L985 590Q1010 592 1030 625L1047 660L1050 990H900L830 890H795z" fill="#fbc24e"/><path d="M835 600H975Q990 600 993 615L1020 775L830 738Q820 735 820 720V615Q820 600 835 600z" fill="#7a8fa3"/><rect x="1022" y="632" width="28" height="148" fill="#f3ecd8"/><rect x="1050" y="670" width="22" height="87" fill="#6a6568"/><rect x="1055" y="895" width="50" height="80" fill="#17689c"/><circle cx="795" cy="1080" r="90" fill="#4a4648"/><circle cx="795" cy="1080" r="42" fill="#fff"/><circle cx="795" cy="1080" r="16" fill="#4a4648"/></g></g><circle cx="821.2" cy="762.7" r="73.2" fill="none" stroke="#1767ad" stroke-width="6.2"/>
<clipPath id="ck5"><circle cx="120.3" cy="934.0" r="71"/></clipPath><circle cx="120.3" cy="934.0" r="73.2" fill="#fff"/><g clip-path="url(#ck5)"><g transform="translate(35 845) scale(0.12099)"><circle cx="700" cy="440" r="88" fill="#3d3d3d"/><circle cx="790" cy="500" r="82" fill="#444"/><circle cx="620" cy="500" r="88" fill="#383838"/><circle cx="450" cy="500" r="72" fill="#404040"/><circle cx="540" cy="545" r="72" fill="#3a3a3a"/><circle cx="900" cy="520" r="72" fill="#3c3c3c"/><circle cx="965" cy="535" r="68" fill="#424242"/><circle cx="330" cy="570" r="62" fill="#3c3c3c"/><circle cx="1060" cy="585" r="52" fill="#404040"/><circle cx="1105" cy="605" r="40" fill="#3a3a3a"/><circle cx="285" cy="590" r="42" fill="#424242"/><circle cx="700" cy="545" r="92" fill="#404040"/><circle cx="850" cy="560" r="72" fill="#383838"/><circle cx="400" cy="560" r="62" fill="#454545"/><rect x="260" y="560" width="870" height="52" fill="#3c3c3c"/><rect x="235" y="595" width="925" height="47" fill="#7a6459"/><path d="M250 640H1145L1000 1040H395z" fill="#8a7163"/><path d="M1000 1040L1145 640H1060L960 1040z" fill="#977c6c"/><path d="M300 685H1095L1085 712H310z" fill="#9d8373"/><path d="M440 735V965M545 735V965M645 735V965M745 735V965M850 735V965M955 735V965" stroke="#9d8373" stroke-width="14"/><rect x="405" y="1040" width="595" height="24" fill="#4a4648"/><rect x="540" y="1040" width="330" height="38" fill="#3a3634"/><rect x="575" y="1078" width="265" height="16" fill="#c8c8c8"/><circle cx="490" cy="1135" r="66" fill="#565254"/><circle cx="920" cy="1135" r="66" fill="#565254"/><circle cx="490" cy="1135" r="30" fill="#777"/><circle cx="920" cy="1135" r="30" fill="#777"/><rect x="420" y="1108" width="580" height="22" fill="#4a4648"/><path d="M560 1064L640 1135H780L860 1064" fill="none" stroke="#4a4648" stroke-width="16"/></g></g><circle cx="120.3" cy="934.0" r="73.2" fill="none" stroke="#1767ad" stroke-width="6.2"/>
<clipPath id="ck6"><circle cx="752.6" cy="934.0" r="71"/></clipPath><circle cx="752.6" cy="934.0" r="73.2" fill="#fff"/><g clip-path="url(#ck6)"><g transform="translate(670 845) scale(0.12099)"><rect x="50" y="830" width="210" height="670" fill="#ff9b45"/><rect x="100" y="815" width="162" height="18" fill="#0c3a5e"/><g fill="none" stroke="#0c2030" stroke-width="12"><path d="M245 830V402Q245 392 255 392H310Q320 392 320 402V430M360 580H395V720"/><path d="M920 680V510Q920 495 935 495H1000M965 680V620Q965 605 980 605H1030M1120 680V585Q1120 570 1135 570H1205"/></g><rect x="275" y="420" width="85" height="495" fill="#0c3a5e" rx="42"/><rect x="715" y="315" width="150" height="405" fill="#cfdade" rx="70"/><rect x="790" y="315" width="75" height="405" fill="#c2cfd4" rx="0"/><rect x="715" y="425" width="150" height="26" fill="#f0a878"/><rect x="715" y="535" width="150" height="23" fill="#f0a878"/><path d="M790 318V290H885V690" fill="none" stroke="#d8d0c8" stroke-width="8"/><rect x="1000" y="200" width="65" height="490" fill="#3f8ea8"/><rect x="1000" y="395" width="65" height="15" fill="#2a7088"/><rect x="1000" y="430" width="65" height="12" fill="#2a7088"/><rect x="1000" y="540" width="65" height="12" fill="#2a7088"/><rect x="1205" y="480" width="45" height="240" fill="#3f8ea8"/><rect x="1165" y="720" width="235" height="780" fill="#d5e3ea"/><rect x="1165" y="850" width="235" height="12" fill="#3b8aa8"/><rect x="1165" y="960" width="235" height="12" fill="#3b8aa8"/><rect x="350" y="740" width="285" height="225" fill="#d3dde2" rx="112"/><ellipse cx="560" cy="852" rx="75" ry="112" fill="#c3cfd6"/><ellipse cx="470" cy="852" rx="120" ry="112" fill="#d3dde2"/><rect x="385" y="715" width="215" height="27" fill="#c3cfd6"/><rect x="445" y="690" width="90" height="26" fill="#0c3a5e"/><rect x="260" y="925" width="175" height="575" fill="#3b8aa8"/><rect x="305" y="975" width="90" height="13" fill="#0c3a5e"/><rect x="305" y="1000" width="90" height="13" fill="#0c3a5e"/><rect x="305" y="1025" width="90" height="13" fill="#0c3a5e"/><rect x="435" y="985" width="150" height="515" fill="#0c3a5e"/><rect x="580" y="965" width="210" height="535" fill="#3b8aa8"/><path d="M490 690V665Q490 632 522 632H590Q612 632 627 648L725 760Q740 777 740 800V970" fill="none" stroke="#2f8a9f" stroke-width="30"/><rect x="785" y="680" width="380" height="820" fill="#0c3a5e"/><rect x="845" y="735" width="25" height="60" fill="#3b8aa8"/><rect x="885" y="735" width="25" height="60" fill="#3b8aa8"/><rect x="922" y="735" width="24" height="60" fill="#3b8aa8"/><path d="M660 1500V1050a75 75 0 0 1 150 0V1500z" fill="#d5e3ea"/><path d="M740 1500V975a75 75 0 0 1 70 75V1500z" fill="#c6d4db"/><path d="M890 1500V1010a95 95 0 0 1 190 0V1500z" fill="#d5e3ea"/><path d="M990 1500V915a95 95 0 0 1 90 95V1500z" fill="#c6d4db"/><rect x="660" y="1060" width="150" height="9" fill="#3b8aa8"/><rect x="890" y="1020" width="190" height="10" fill="#3b8aa8"/><rect x="890" y="1045" width="190" height="9" fill="#3b8aa8"/><g fill="none" stroke="#f0a878" stroke-width="14"><path d="M530 1035H590Q610 1035 610 1055V1190Q610 1210 630 1210H660M530 1250H660M810 1215H840Q860 1215 860 1195V1160Q860 1140 880 1140H890M860 1150V900Q860 880 880 880H965Q985 880 985 900V915"/></g><circle cx="530" cy="1035" r="19" fill="#eee"/><circle cx="530" cy="1250" r="19" fill="#eee"/><circle cx="695" cy="1112" r="14" fill="#bbb"/></g></g><circle cx="752.6" cy="934.0" r="73.2" fill="none" stroke="#1767ad" stroke-width="6.2"/>
<g filter="url(#fat)"><text transform="translate(211.31 616.05) scale(0.5626 1)" font-size="53.78" font-weight="bold" fill="#1b76c7" letter-spacing="3.333" stroke="#1b76c7" stroke-width="0.5" vector-effect="non-scaling-stroke" stroke-linejoin="round">Строительство </text><text transform="translate(479.10 613.11) scale(0.6240 1)" font-size="39.95" font-weight="bold" fill="#1b76c7" stroke="#1b76c7" stroke-width="1.5" vector-effect="non-scaling-stroke" stroke-linejoin="round">+</text><text transform="translate(495.35 615.70) scale(0.5533 1)" font-size="70.35" font-weight="bold" fill="#1b76c7" letter-spacing="4.518" stroke="#1b76c7" stroke-width="1.2" vector-effect="non-scaling-stroke" stroke-linejoin="round">13,3</text><text transform="translate(584.02 616.30) scale(0.5704 1)" font-size="55.23" font-weight="bold" fill="#1b76c7">%</text> </g>
<g filter="url(#fat)"><text transform="translate(842.32 616.25) scale(0.5601 1)" font-size="53.47" font-weight="bold" fill="#1b76c7" letter-spacing="3.330" stroke="#1b76c7" stroke-width="0.51" vector-effect="non-scaling-stroke" stroke-linejoin="round">Торговля </text><text transform="translate(1010.67 613.21) scale(0.6440 1)" font-size="39.95" font-weight="bold" fill="#1b76c7" stroke="#1b76c7" stroke-width="1.5" vector-effect="non-scaling-stroke" stroke-linejoin="round">+</text><text transform="translate(1027.48 615.90) scale(0.5247 1)" font-size="70.06" font-weight="bold" fill="#1b76c7" letter-spacing="4.765" stroke="#1b76c7" stroke-width="1.2" vector-effect="non-scaling-stroke" stroke-linejoin="round">11,3</text><text transform="translate(1109.28 616.50) scale(0.5299 1)" font-size="54.51" font-weight="bold" fill="#1b76c7">%</text> </g>
<g filter="url(#fat)"><text transform="translate(210.54 781.80) scale(0.5928 1)" font-size="54.80" font-weight="bold" fill="#1b76c7" letter-spacing="3.180">Информация </text><text transform="translate(453.47 781.80) scale(0.5865 1)" font-size="54.80" font-weight="bold" fill="#1b76c7" letter-spacing="3.214">и </text><text transform="translate(486.23 781.63) scale(0.5838 1)" font-size="54.32" font-weight="bold" fill="#1b76c7" letter-spacing="3.229" stroke="#1b76c7" stroke-width="0.33" vector-effect="non-scaling-stroke" stroke-linejoin="round">связь </text><text transform="translate(598.37 778.11) scale(0.6440 1)" font-size="39.95" font-weight="bold" fill="#1b76c7" stroke="#1b76c7" stroke-width="1.5" vector-effect="non-scaling-stroke" stroke-linejoin="round">+</text><text transform="translate(616.31 781.20) scale(0.4905 1)" font-size="70.93" font-weight="bold" fill="#1b76c7" letter-spacing="5.097" stroke="#1b76c7" stroke-width="1.2" vector-effect="non-scaling-stroke" stroke-linejoin="round">7,1</text><text transform="translate(674.10 781.80) scale(0.5737 1)" font-size="55.96" font-weight="bold" fill="#1b76c7">%</text> </g>
<g filter="url(#fat)"><text transform="translate(910.56 781.49) scale(0.5755 1)" font-size="54.61" font-weight="bold" fill="#1b76c7" letter-spacing="3.302" stroke="#1b76c7" stroke-width="0.43" vector-effect="non-scaling-stroke" stroke-linejoin="round">Транспорт </text><text transform="translate(1115.69 777.01) scale(0.5741 1)" font-size="39.95" font-weight="bold" fill="#1b76c7" stroke="#1b76c7" stroke-width="1.5" vector-effect="non-scaling-stroke" stroke-linejoin="round">+</text><text transform="translate(1131.11 781.10) scale(0.6164 1)" font-size="70.50" font-weight="bold" fill="#1b76c7" letter-spacing="4.056" stroke="#1b76c7" stroke-width="1.2" vector-effect="non-scaling-stroke" stroke-linejoin="round">6,9</text><text transform="translate(1199.10 781.70) scale(0.5834 1)" font-size="55.23" font-weight="bold" fill="#1b76c7">%</text> </g>
<g filter="url(#fat)"><text transform="translate(210.36 921.20) scale(0.6114 1)" font-size="49.86" font-weight="bold" fill="#1b76c7" letter-spacing="2.805">Горнодобывающая </text></g>
<g filter="url(#fat)"><text transform="translate(210.28 964.60) scale(0.6102 1)" font-size="49.86" font-weight="bold" fill="#1b76c7" letter-spacing="2.810">промышленность </text><text transform="translate(516.35 962.11) scale(0.5941 1)" font-size="39.95" font-weight="bold" fill="#1b76c7" stroke="#1b76c7" stroke-width="1.5" vector-effect="non-scaling-stroke" stroke-linejoin="round">+</text><text transform="translate(535.05 964.00) scale(0.6160 1)" font-size="69.48" font-weight="bold" fill="#1b76c7" letter-spacing="4.059" stroke="#1b76c7" stroke-width="1.2" vector-effect="non-scaling-stroke" stroke-linejoin="round">4,6</text><text transform="translate(603.85 964.60) scale(0.5723 1)" font-size="52.76" font-weight="bold" fill="#1b76c7">%</text> </g>
<g filter="url(#fat)"><text transform="translate(850.62 922.00) scale(0.6152 1)" font-size="50.87" font-weight="bold" fill="#1b76c7" letter-spacing="2.845">Обрабатывающая </text></g>
<g filter="url(#fat)"><text transform="translate(849.78 964.70) scale(0.6095 1)" font-size="49.86" font-weight="bold" fill="#1b76c7" letter-spacing="2.814">промышленность </text><text transform="translate(1154.20 962.31) scale(0.6240 1)" font-size="39.95" font-weight="bold" fill="#1b76c7" stroke="#1b76c7" stroke-width="1.5" vector-effect="non-scaling-stroke" stroke-linejoin="round">+</text><text transform="translate(1174.05 964.10) scale(0.5269 1)" font-size="68.75" font-weight="bold" fill="#1b76c7" letter-spacing="4.745" stroke="#1b76c7" stroke-width="1.2" vector-effect="non-scaling-stroke" stroke-linejoin="round">4,1</text><text transform="translate(1234.18 964.70) scale(0.6243 1)" font-size="52.76" font-weight="bold" fill="#1b76c7">%</text> </g>
<rect x="39" y="1038.5" width="1327" height="97" fill="#1f9ad6"/>
<polygon points="68.5,1084.3 80.5,1071.7 101.5,1090.5 135.7,1055.8 150.5,1070.0 105.0,1119.4" fill="#cdac18"/><polygon points="67.9,1082.3 79.9,1069.7 100.9,1088.5 135.1,1053.8 149.9,1068.0 104.4,1117.4" fill="#f1d61c"/>
<polygon points="806.0,1084.3 818.0,1071.7 839.0,1090.5 873.2,1055.8 888.0,1070.0 842.5,1119.4" fill="#cdac18"/><polygon points="805.4,1082.3 817.4,1069.7 838.4,1088.5 872.6,1053.8 887.4,1068.0 841.9,1117.4" fill="#f1d61c"/>
<g filter="url(#fat)">
<text transform="translate(177.10 1104.85) scale(0.5829 1)" font-size="65.54" font-weight="bold" fill="#ffffff" letter-spacing="3.431" stroke="#ffffff" stroke-width="0.91" vector-effect="non-scaling-stroke" stroke-linejoin="round">Произведено </text><text transform="translate(465.54 1104.80) scale(0.5710 1)" font-size="65.41" font-weight="bold" fill="#ffffff" letter-spacing="3.503" stroke="#ffffff" stroke-width="1" vector-effect="non-scaling-stroke" stroke-linejoin="round">товаров: </text>
<text transform="translate(658.84 1099.91) scale(0.7838 1)" font-size="39.95" font-weight="bold" fill="#f2d71a" stroke="#f2d71a" stroke-width="1.5" vector-effect="non-scaling-stroke" stroke-linejoin="round">+</text>
<text transform="translate(682.01 1105.31) scale(0.5774 1)" font-size="66.88" font-weight="bold" fill="#f2d71a" letter-spacing="3.464" stroke="#f2d71a" stroke-width="0.99" vector-effect="non-scaling-stroke" stroke-linejoin="round">3,9%</text>
<text transform="translate(917.48 1104.80) scale(0.5665 1)" font-size="65.41" font-weight="bold" fill="#ffffff" letter-spacing="3.530" stroke="#ffffff" stroke-width="1" vector-effect="non-scaling-stroke" stroke-linejoin="round">Услуг: </text>
<text transform="translate(1056.45 1099.91) scale(0.7738 1)" font-size="39.95" font-weight="bold" fill="#f2d71a" stroke="#f2d71a" stroke-width="1.5" vector-effect="non-scaling-stroke" stroke-linejoin="round">+</text>
<text transform="translate(1079.23 1105.36) scale(0.5882 1)" font-size="67.04" font-weight="bold" fill="#f2d71a" letter-spacing="3.400" stroke="#f2d71a" stroke-width="0.88" vector-effect="non-scaling-stroke" stroke-linejoin="round">5,7%</text>
</g>
<g>
<polygon points="1225,1169.2 1252.7,1169.2 1282.7,1187.5 1270,1197.2 1371,1366.8 1336,1366.8 1244.5,1213 1225.7,1220.5" fill="#43cc46"/>
<polygon points="1352,1345 1365,1326 1396,1326 1371,1366.8 1362,1366.8" fill="#3bb03e"/>
<polygon points="1367.5,1326 1387,1326 1394.5,1358 1361.5,1358" fill="#a9c0d8"/>
<path d="M1405 1357H1352a5.5 5.5 0 0 0-5.5 5.5V1366.8H1405z" fill="#9fb4cc"/>
<rect x="1402.7" y="1336" width="2.3" height="30" fill="#e8b820"/>
<rect x="1280.2" y="1212.7" width="130" height="114" fill="#b4cbe3"/>
<rect x="1280.2" y="1212.7" width="130" height="8" fill="#c1d6ec"/>
<rect x="1282.7" y="1220.5" width="125" height="91" fill="#fff"/>
<rect x="1282.7" y="1311" width="125" height="1.6" fill="#8fa6bf"/>
<circle cx="1378" cy="1320.2" r="3.6" fill="#c6d8ea" stroke="#8399ad" stroke-width="1.6"/>
<rect x="1291" y="1293.6" width="120" height="1.2" fill="#b0b8c0"/>
<path d="M1301.0 1293.8V1253.2a4.2 4.2 0 0 1 8.4 0V1293.8z" fill="#2f6db5"/><rect x="1301.0" y="1265.0" width="8.4" height="28.8" fill="#1f4a82"/>
<path d="M1319.0 1293.8V1235.9a4.2 4.2 0 0 1 8.4 0V1293.8z" fill="#abcef3"/><rect x="1319.0" y="1247.0" width="8.4" height="46.8" fill="#9dbfe6"/>
<path d="M1336.3 1293.8V1265.2a4.2 4.2 0 0 1 8.4 0V1293.8z" fill="#f3b464"/><rect x="1336.3" y="1272.0" width="8.4" height="21.8" fill="#e8a04c"/>
<path d="M1351.0 1293.8V1273.4a4.2 4.2 0 0 1 8.4 0V1293.8z" fill="#2f6db5"/><rect x="1351.0" y="1283.0" width="8.4" height="10.8" fill="#1f4a82"/>
<path d="M1368.8 1293.8V1245.2a4.2 4.2 0 0 1 8.4 0V1293.8z" fill="#abcef3"/><rect x="1368.8" y="1262.0" width="8.4" height="31.8" fill="#9dbfe6"/>
<path d="M1386.2 1293.8V1256.9a4.2 4.2 0 0 1 8.4 0V1293.8z" fill="#f3b464"/><rect x="1386.2" y="1267.0" width="8.4" height="26.8" fill="#e8a04c"/>
</g>
<g filter="url(#fat)">
<text transform="translate(57.72 1244.61) scale(0.5584 1)" font-size="58.17" font-weight="bold" fill="#ffffff" letter-spacing="3.581" stroke="#ffffff" stroke-width="0.78" vector-effect="non-scaling-stroke" stroke-linejoin="round">МЕЖДУНАРОДНЫЕ </text><text transform="translate(411.46 1244.50) scale(0.5280 1)" font-size="57.85" font-weight="bold" fill="#ffffff" letter-spacing="3.788" stroke="#ffffff" stroke-width="1" vector-effect="non-scaling-stroke" stroke-linejoin="round">РЕЗЕРВЫ </text><text transform="translate(589.72 1244.53) scale(0.5302 1)" font-size="57.92" font-weight="bold" fill="#ffffff" letter-spacing="3.772" stroke="#ffffff" stroke-width="0.95" vector-effect="non-scaling-stroke" stroke-linejoin="round">РК: </text>
<text transform="translate(654.04 1245.00) scale(0.5870 1)" font-size="59.59" font-weight="bold" fill="#f0d41c">$ </text>
<text transform="translate(689.81 1244.70) scale(0.6545 1)" font-size="78.93" font-weight="bold" fill="#f0d41c" letter-spacing="3.820" stroke="#f0d41c" stroke-width="1.2" vector-effect="non-scaling-stroke" stroke-linejoin="round">96 </text>
<text transform="translate(763.75 1244.70) scale(0.5759 1)" font-size="58.43" font-weight="bold" fill="#f0d41c" letter-spacing="3.473" stroke="#f0d41c" stroke-width="0.6" vector-effect="non-scaling-stroke" stroke-linejoin="round">МЛРД</text>
<text transform="translate(56.61 1320.30) scale(0.5526 1)" font-size="57.70" font-weight="bold" fill="#ffffff" letter-spacing="3.619" stroke="#ffffff" stroke-width="0.8" vector-effect="non-scaling-stroke" stroke-linejoin="round">АКТИВЫ </text><text transform="translate(216.99 1320.34) scale(0.5615 1)" font-size="57.81" font-weight="bold" fill="#ffffff" letter-spacing="3.562" stroke="#ffffff" stroke-width="0.73" vector-effect="non-scaling-stroke" stroke-linejoin="round">НАЦФОНДА: </text><text transform="translate(447.59 1320.20) scale(0.5136 1)" font-size="57.41" font-weight="bold" fill="#ffffff" letter-spacing="3.894" stroke="#ffffff" stroke-width="1" vector-effect="non-scaling-stroke" stroke-linejoin="round">СВЫШЕ </text>
<text transform="translate(594.58 1320.70) scale(0.5745 1)" font-size="55.96" font-weight="bold" fill="#f0d41c">$</text>
<text transform="translate(617.02 1320.40) scale(0.6395 1)" font-size="76.02" font-weight="bold" fill="#f0d41c" letter-spacing="3.909" stroke="#f0d41c" stroke-width="1.2" vector-effect="non-scaling-stroke" stroke-linejoin="round">60 </text>
<text transform="translate(686.29 1320.44) scale(0.5832 1)" font-size="58.11" font-weight="bold" fill="#ffffff" letter-spacing="3.429" stroke="#ffffff" stroke-width="0.52" vector-effect="non-scaling-stroke" stroke-linejoin="round">МЛРД </text>
<text transform="translate(821.87 1313.45) scale(1.0197 1)" font-size="32.27" font-weight="bold" fill="#f0d41c" stroke="#f0d41c" stroke-width="1.5" vector-effect="non-scaling-stroke" stroke-linejoin="round">+</text>
<text transform="translate(846.58 1320.70) scale(0.5745 1)" font-size="55.96" font-weight="bold" fill="#f0d41c">$ </text>
<text transform="translate(880.89 1320.10) scale(0.6346 1)" font-size="73.84" font-weight="bold" fill="#f0d41c" letter-spacing="3.151" stroke="#f0d41c" stroke-width="1.2" vector-effect="non-scaling-stroke" stroke-linejoin="round">4 </text>
<text transform="translate(919.58 1320.44) scale(0.5843 1)" font-size="58.13" font-weight="bold" fill="#f0d41c" letter-spacing="3.423" stroke="#f0d41c" stroke-width="0.51" vector-effect="non-scaling-stroke" stroke-linejoin="round">МЛРД </text><text transform="translate(1034.75 1320.70) scale(0.5710 1)" font-size="58.87" font-weight="bold" fill="#f0d41c" letter-spacing="3.503">В </text><text transform="translate(1069.93 1320.55) scale(0.6064 1)" font-size="58.42" font-weight="bold" fill="#f0d41c" letter-spacing="3.298" stroke="#f0d41c" stroke-width="0.31" vector-effect="non-scaling-stroke" stroke-linejoin="round">2023 </text><text transform="translate(1167.31 1320.43) scale(0.5810 1)" font-size="58.08" font-weight="bold" fill="#f0d41c" letter-spacing="3.443" stroke="#f0d41c" stroke-width="0.54" vector-effect="non-scaling-stroke" stroke-linejoin="round">ГОДУ </text>
</g>
<path d="M264.2 1434.5V1494M251.8 1481.5L264.2 1494.8L277.4 1481.5" fill="none" stroke="#fff" stroke-width="3.6" stroke-linecap="round" stroke-linejoin="round"/>
<g filter="url(#fat)">
<text transform="translate(44.39 1480.19) scale(0.5423 1)" font-size="55.95" font-weight="bold" fill="#ffffff" letter-spacing="3.623" stroke="#ffffff" stroke-width="0.81" vector-effect="non-scaling-stroke" stroke-linejoin="round">ИНФЛЯЦИЯ </text>
<text transform="translate(293.22 1480.10) scale(0.4238 1)" font-size="55.67" font-weight="bold" fill="#ffffff" letter-spacing="4.636" stroke="#ffffff" stroke-width="1" vector-effect="non-scaling-stroke" stroke-linejoin="round">БОЛЕЕ </text><text transform="translate(400.83 1480.60) scale(0.6085 1)" font-size="57.12" font-weight="bold" fill="#ffffff" letter-spacing="3.229">ЧЕМ </text>
<text transform="translate(490.41 1480.80) scale(0.5169 1)" font-size="57.41" font-weight="bold" fill="#f0d41c" letter-spacing="3.821">В </text>
<text transform="translate(523.29 1480.30) scale(0.5771 1)" font-size="75.58" font-weight="bold" fill="#f0d41c" letter-spacing="3.466" stroke="#f0d41c" stroke-width="1" vector-effect="non-scaling-stroke" stroke-linejoin="round">2 </text>
<text transform="translate(559.29 1480.30) scale(0.5095 1)" font-size="55.96" font-weight="bold" fill="#f0d41c" letter-spacing="3.877" stroke="#f0d41c" stroke-width="1" vector-effect="non-scaling-stroke" stroke-linejoin="round">РАЗА: </text>
<text transform="translate(665.36 1480.30) scale(0.6242 1)" font-size="75.58" font-weight="bold" fill="#f0d41c" letter-spacing="4.005" stroke="#f0d41c" stroke-width="1" vector-effect="non-scaling-stroke" stroke-linejoin="round">9,8</text>
<text transform="translate(737.14 1480.80) scale(0.6028 1)" font-size="57.41" font-weight="bold" fill="#f0d41c">%</text>
<text transform="translate(45.75 1555.29) scale(0.5335 1)" font-size="55.19" font-weight="bold" fill="#ffffff" letter-spacing="3.636" stroke="#ffffff" stroke-width="0.83" vector-effect="non-scaling-stroke" stroke-linejoin="round">ЗАДАЧА </text><text transform="translate(193.76 1555.20) scale(0.4723 1)" font-size="54.94" font-weight="bold" fill="#ffffff" letter-spacing="4.108" stroke="#ffffff" stroke-width="1" vector-effect="non-scaling-stroke" stroke-linejoin="round">НА </text><text transform="translate(246.54 1555.70) scale(0.5940 1)" font-size="56.40" font-weight="bold" fill="#ffffff" letter-spacing="3.266">2024 </text><text transform="translate(341.19 1555.27) scale(0.5262 1)" font-size="55.13" font-weight="bold" fill="#ffffff" letter-spacing="3.687" stroke="#ffffff" stroke-width="0.87" vector-effect="non-scaling-stroke" stroke-linejoin="round">ГОД: </text>
<text transform="translate(428.08 1555.31) scale(0.5406 1)" font-size="55.26" font-weight="bold" fill="#f0d41c" letter-spacing="3.589" stroke="#f0d41c" stroke-width="0.78" vector-effect="non-scaling-stroke" stroke-linejoin="round">УДЕРЖАТЬ </text><text transform="translate(625.56 1555.23) scale(0.5218 1)" font-size="55.03" font-weight="bold" fill="#f0d41c" letter-spacing="3.718" stroke="#f0d41c" stroke-width="0.94" vector-effect="non-scaling-stroke" stroke-linejoin="round">ИНФЛЯЦИЮ </text><text transform="translate(832.50 1555.70) scale(0.4768 1)" font-size="56.40" font-weight="bold" fill="#f0d41c" letter-spacing="4.069">В </text><text transform="translate(867.90 1555.21) scale(0.5163 1)" font-size="54.96" font-weight="bold" fill="#f0d41c" letter-spacing="3.758" stroke="#f0d41c" stroke-width="0.99" vector-effect="non-scaling-stroke" stroke-linejoin="round">КОРИДОРЕ </text>
<text transform="translate(1052.34 1555.20) scale(0.6754 1)" font-size="75.00" font-weight="bold" fill="#f0d41c" letter-spacing="3.702" stroke="#f0d41c" stroke-width="1" vector-effect="non-scaling-stroke" stroke-linejoin="round">6<tspan dy="-7.5">-</tspan><tspan dy="7.5">8</tspan></text>
<text transform="translate(1131.86 1555.70) scale(0.5958 1)" font-size="56.69" font-weight="bold" fill="#f0d41c">%</text>
</g>
<clipPath id="cb"><rect x="0" y="1408.6" width="1405" height="173.2"/></clipPath>
<g clip-path="url(#cb)">
<rect x="1192.8" y="1457.6" width="90" height="140" rx="5" fill="#5a5350"/>
<rect x="1200.7" y="1468.6" width="70" height="20.4" fill="#f4f4f4"/><rect x="1200.7" y="1468.6" width="70" height="2.6" fill="#d4d4d4"/>
<rect x="1200.7" y="1498.3" width="18" height="16.6" fill="#d9201f"/>
<text x="1209.7" y="1511.5" font-size="13.5" font-weight="normal" fill="#fff" text-anchor="middle">1</text>
<rect x="1221.3" y="1498.3" width="18" height="16.6" fill="#9d9a98"/>
<text x="1230.3" y="1511.5" font-size="13.5" font-weight="normal" fill="#fff" text-anchor="middle">2</text>
<rect x="1242.2" y="1498.3" width="18" height="16.6" fill="#9d9a98"/>
<text x="1251.2" y="1511.5" font-size="13.5" font-weight="normal" fill="#fff" text-anchor="middle">3</text>
<rect x="1262.8" y="1498.3" width="18" height="16.6" fill="#9d9a98"/>
<rect x="1200.7" y="1518.7" width="18" height="16.6" fill="#d9201f"/>
<text x="1209.7" y="1531.9" font-size="13.5" font-weight="normal" fill="#fff" text-anchor="middle">4</text>
<rect x="1221.3" y="1518.7" width="18" height="16.6" fill="#9d9a98"/>
<text x="1230.3" y="1531.9" font-size="13.5" font-weight="normal" fill="#fff" text-anchor="middle">5</text>
<rect x="1242.2" y="1518.7" width="18" height="16.6" fill="#9d9a98"/>
<text x="1251.2" y="1531.9" font-size="13.5" font-weight="normal" fill="#fff" text-anchor="middle">6</text>
<rect x="1262.8" y="1518.7" width="18" height="16.6" fill="#9d9a98"/>
<rect x="1200.7" y="1539.0" width="18" height="16.6" fill="#d9201f"/>
<text x="1209.7" y="1552.2" font-size="13.5" font-weight="normal" fill="#fff" text-anchor="middle">7</text>
<rect x="1221.3" y="1539.0" width="18" height="16.6" fill="#9d9a98"/>
<text x="1230.3" y="1552.2" font-size="13.5" font-weight="normal" fill="#fff" text-anchor="middle">8</text>
<rect x="1242.2" y="1539.0" width="18" height="16.6" fill="#9d9a98"/>
<text x="1251.2" y="1552.2" font-size="13.5" font-weight="normal" fill="#fff" text-anchor="middle">9</text>
<rect x="1262.8" y="1539.0" width="18" height="16.6" fill="#9d9a98"/>
<rect x="1200.7" y="1559.4" width="18" height="16.6" fill="#d9201f"/>
<text x="1209.7" y="1571.4" font-size="13.5" font-weight="normal" fill="#fff" text-anchor="middle">.</text>
<rect x="1221.3" y="1559.4" width="18" height="16.6" fill="#9d9a98"/>
<text x="1230.3" y="1572.6" font-size="13.5" font-weight="normal" fill="#fff" text-anchor="middle">0</text>
<rect x="1242.2" y="1559.4" width="18" height="16.6" fill="#9d9a98"/>
<text x="1251.2" y="1572.6" font-size="13.5" font-weight="normal" fill="#fff" text-anchor="middle">×</text>
<rect x="1262.8" y="1559.4" width="18" height="16.6" fill="#d9201f"/>
<rect x="1266.4" y="1408.6" width="140" height="160.2" fill="#c9e0f5"/>
<rect x="1270" y="1410" width="140" height="155" fill="#2a3563"/>
<rect x="1277.4" y="1417.7" width="130" height="141" fill="url(#scr)"/>
<clipPath id="cg"><rect x="1270" y="1410" width="135" height="148"/></clipPath>
<g clip-path="url(#cg)">
<path d="M1427.00 1457.22A80 80 0 0 0 1351.18 1454.97L1369.09 1490.73A40 40 0 0 1 1407.00 1491.86z" fill="#ffd23f"/>
<path d="M1351.18 1454.97A80 80 0 0 0 1307.78 1515.37L1347.39 1520.93A40 40 0 0 1 1369.09 1490.73z" fill="#f29a38"/>
<path d="M1307.78 1515.37A80 80 0 0 0 1335.58 1587.78L1361.29 1557.14A40 40 0 0 1 1347.39 1520.93z" fill="#ee5a5a"/>
<circle cx="1387" cy="1526.5" r="48.5" fill="#2a3563"/>
<circle cx="1388.6" cy="1526.5" r="34.5" fill="#cdddf2"/>
<polygon points="1343.2,1496.8 1364.3,1496.8 1352.5,1515.6" fill="#cdddf2"/>
</g>
<path d="M1405 1568.8H1250.5V1578.7a3 3 0 0 0 3 3H1405z" fill="#26305c"/>
<path d="M1405 1568.8H1352.5V1574a2.6 2.6 0 0 0 2.6 2.6H1405z" fill="#525c8c"/>
</g>
<rect x="1404" y="0" width="1" height="1600" fill="#fff" opacity=".3"/><rect x="0" y="0" width="1" height="1600" fill="#fff" opacity=".2"/>
</svg>
</body></html>
